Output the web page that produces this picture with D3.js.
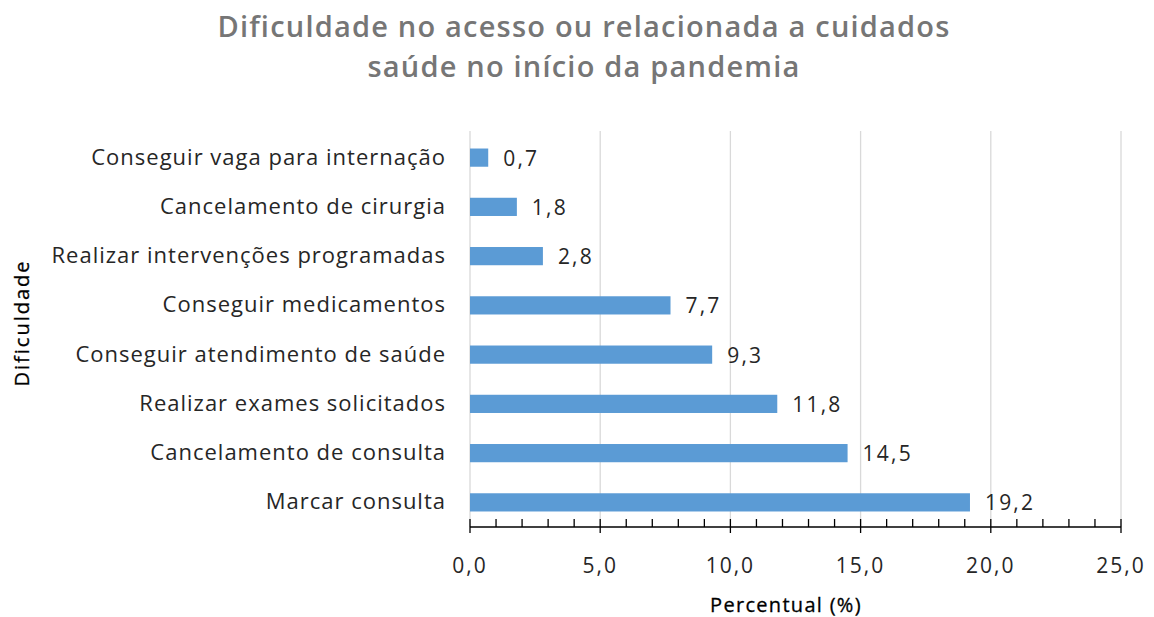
<!DOCTYPE html>
<html><head><meta charset="utf-8">
<script src="https://cdn.jsdelivr.net/npm/d3@7"></script>
<style>body{margin:0;background:#fff}svg{display:block;font-family:"Open Sans",sans-serif}</style>
</head><body><svg id="c" width="1154" height="617"></svg>
<script>
const categories = ["Conseguir vaga para internação","Cancelamento de cirurgia","Realizar intervenções programadas","Conseguir medicamentos","Conseguir atendimento de saúde","Realizar exames solicitados","Cancelamento de consulta","Marcar consulta"];
const values = [0.7,1.8,2.8,7.7,9.3,11.8,14.5,19.2];
const xTicks = [0,5,10,15,20,25];
const titleLines = ["Dificuldade no acesso ou relacionada a cuidados","saúde no início da pandemia"];

const svg = d3.select("#c");
const L=470,R=1121,T=131,B=527;
const x = d3.scaleLinear().domain([0,25]).range([L,R]);
const y = d3.scaleBand().domain(categories).range([T+2,B]).paddingInner(0.63).paddingOuter(0.315);
const fmt = v => v.toFixed(1).replace(".",",");

svg.selectAll(".title").data(titleLines).join("text")
  .attr("x",584).attr("y",(d,i)=>37+i*40).attr("text-anchor","middle")
  .attr("font-size",29).attr("font-weight",600).attr("fill","#767676").attr("letter-spacing",1.2).text(d=>d);

svg.append("g").selectAll("line").data(xTicks).join("line")
  .attr("x1",d=>x(d)).attr("x2",d=>x(d)).attr("y1",T).attr("y2",B)
  .attr("stroke","#d9d9d9").attr("stroke-width",1.3);

svg.append("g").selectAll("rect").data(values).join("rect")
  .attr("x",x(0)).attr("y",(d,i)=>y(categories[i])).attr("width",d=>x(d)-x(0)).attr("height",y.bandwidth())
  .attr("fill","#5b9bd5");

svg.append("g").selectAll("text").data(values).join("text")
  .attr("x",d=>x(d)+15).attr("y",(d,i)=>y(categories[i])+y.bandwidth()/2+8)
  .attr("font-size",21).attr("letter-spacing",2.2).attr("fill","#262626").text(d=>fmt(d));

svg.append("g").selectAll("text").data(categories).join("text")
  .attr("x",446).attr("y",d=>y(d)+y.bandwidth()/2+7).attr("text-anchor","end")
  .attr("font-size",22).attr("letter-spacing",1).attr("fill","#262626").text(d=>d);

// axis
const ax = svg.append("g").attr("transform",`translate(0,${B})`);
ax.append("line").attr("x1",L).attr("x2",R).attr("stroke","#000").attr("stroke-width",1.5);
ax.selectAll(".minor").data(d3.range(0,26)).join("line")
  .attr("x1",d=>x(d)).attr("x2",d=>x(d)).attr("y1",-8).attr("y2",d=>d%5===0?6:0)
  .attr("stroke","#000").attr("stroke-width",1.3);
ax.selectAll(".lbl").data(xTicks).join("text")
  .attr("x",d=>x(d)).attr("y",46).attr("text-anchor","middle")
  .attr("font-size",21).attr("letter-spacing",2).attr("fill","#262626").text(d=>fmt(d));

svg.append("text").attr("x",786).attr("y",612).attr("text-anchor","middle")
  .attr("font-size",20).attr("font-weight",500).attr("letter-spacing",1.3).attr("fill","#000")
  .attr("stroke","#000").attr("stroke-width",0.3).text("Percentual (%)");
svg.append("text").attr("transform","translate(29,323) rotate(-90)").attr("text-anchor","middle")
  .attr("font-size",20).attr("font-weight",500).attr("letter-spacing",2).attr("fill","#000")
  .attr("stroke","#000").attr("stroke-width",0.3).text("Dificuldade");
</script></body></html>
